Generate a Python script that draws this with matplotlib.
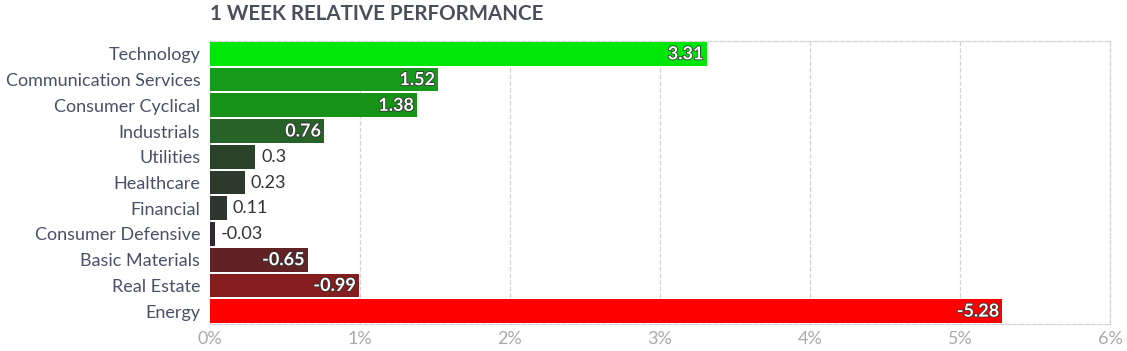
import matplotlib.pyplot as plt
import matplotlib.patheffects as pe

plt.rcParams['font.family'] = ['Lato', 'DejaVu Sans']

# data
sectors = ['Technology', 'Communication Services', 'Consumer Cyclical', 'Industrials',
           'Utilities', 'Healthcare', 'Financial', 'Consumer Defensive',
           'Basic Materials', 'Real Estate', 'Energy']
perf = [3.31, 1.52, 1.38, 0.76, 0.3, 0.23, 0.11, -0.03, -0.65, -0.99, -5.28]
colors = ['#00e60a', '#169a1a', '#169317', '#276328', '#2a412a', '#2c3a2c',
          '#2e342e', '#302b30', '#612226', '#851c1d', '#ff0000']
xticks = [0, 1, 2, 3, 4, 5, 6]

fig = plt.figure(figsize=(11.27, 3.51), dpi=100)
ax = fig.add_axes([210 / 1127, 27 / 351, 900 / 1127, 283 / 351])

ypos = list(range(len(sectors)))
widths = [abs(v) for v in perf]
ax.barh(ypos, widths, height=0.92, color=colors, zorder=3)

for y, v, w in zip(ypos, perf, widths):
    if w > 0.5:
        ax.text(w - 0.02, y, f'{v:g}', ha='right', va='center', color='white',
                fontsize=13, fontweight='bold', zorder=4,
                path_effects=[pe.withStroke(linewidth=1.2, foreground='#333333')])
    else:
        ax.text(w + 0.04, y, f'{v:g}', ha='left', va='center', color='#333333',
                fontsize=13, zorder=4)

ax.set_ylim(len(sectors) - 0.5, -0.5)
ax.set_xlim(0, 6)
ax.set_yticks(ypos)
ax.set_yticklabels(sectors, fontsize=13, color='#4a5066')
ax.set_xticks(xticks)
ax.set_xticklabels([f'{t}%' for t in xticks], fontsize=13, color='#aaaaaa')
ax.tick_params(length=0, pad=5)
ax.tick_params(axis='y', pad=7)

ax.grid(axis='x', color='#d4d4d4', linestyle='--', linewidth=0.9, zorder=0)
for s in ['top', 'right', 'bottom']:
    ax.spines[s].set_linestyle('--')
    ax.spines[s].set_color('#d4d4d4')
    ax.spines[s].set_linewidth(0.9)
ax.spines['left'].set_visible(False)

fig.text(210 / 1127, 1 - 14 / 351, '1 WEEK RELATIVE PERFORMANCE', ha='left', va='center',
         fontsize=14.8, fontweight='bold', color='#4a4f5c')

fig.savefig('out.png', dpi=100)
